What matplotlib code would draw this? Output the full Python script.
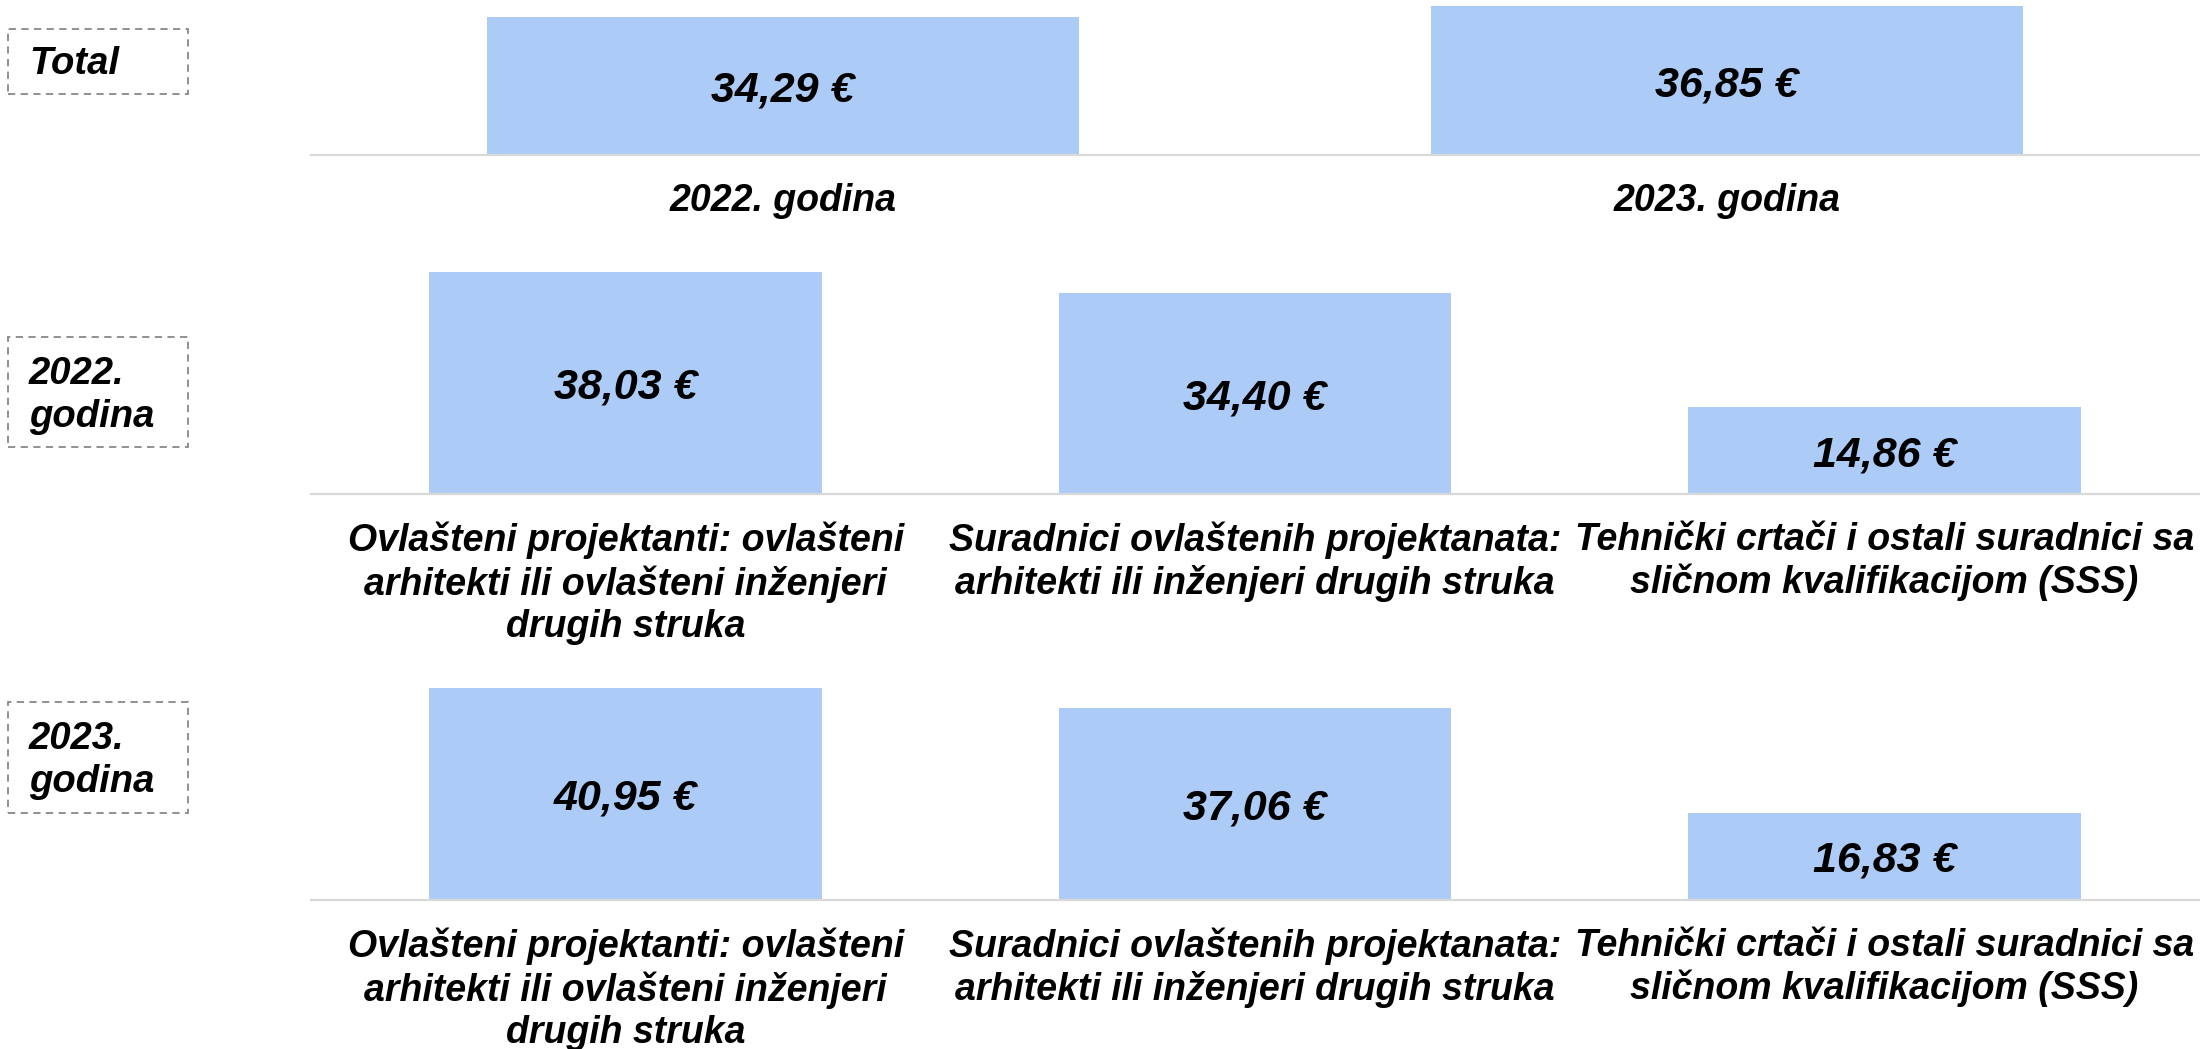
import matplotlib
matplotlib.use("Agg")
import matplotlib.pyplot as plt
from matplotlib.patches import Rectangle

# ---- data ----
total_categories = ["2022. godina", "2023. godina"]
total_values = [34.29, 36.85]

role_categories = [
    "Ovlašteni projektanti: ovlašteni\narhitekti ili ovlašteni inženjeri\ndrugih struka",
    "Suradnici ovlaštenih projektanata:\narhitekti ili inženjeri drugih struka",
    "Tehnički crtači i ostali suradnici sa\nsličnom kvalifikacijom (SSS)",
]
values_2022 = [38.03, 34.40, 14.86]
values_2023 = [40.95, 37.06, 16.83]

row_labels = ["Total", "2022.\ngodina", "2023.\ngodina"]

# ---- style ----
plt.rcParams['font.family'] = ['Liberation Sans', 'DejaVu Sans']
BAR = "#adcbf7"
W, H = 2200, 1049
fig = plt.figure(figsize=(22, 10.49), dpi=100)

def fx(px):
    return px / W

def fy(py):
    return 1 - py / H

def make_ax(bottom_px, top_px, ymax):
    ax = fig.add_axes([fx(311), fy(bottom_px), fx(2199) - fx(311), (bottom_px - top_px) / H])
    ax.set_ylim(0, ymax)
    for s in ["top", "left", "right"]:
        ax.spines[s].set_visible(False)
    ax.spines["bottom"].set_color("#d9d9d9")
    ax.spines["bottom"].set_linewidth(1.6)
    ax.set_yticks([])
    ax.tick_params(axis="x", length=0, pad=20)
    ax.patch.set_alpha(0)
    return ax

def fmt(v):
    return f"{v:.2f}".replace(".", ",") + " €"

def draw(ax, cats, vals, width):
    x = list(range(len(cats)))
    ax.bar(x, vals, width=width, color=BAR, zorder=2)
    ax.set_xlim(-0.5, len(cats) - 0.5)
    ax.set_xticks(x)
    ax.set_xticklabels(cats, fontsize=27, fontweight="bold", fontstyle="italic",
                       linespacing=1.21)
    for xi, v in zip(x, vals):
        ax.text(xi, v / 2, fmt(v), ha="center", va="center_baseline", fontsize=31,
                fontweight="bold", fontstyle="italic", zorder=3)

ax1 = make_ax(155, 0, 155 / 4.03)
draw(ax1, total_categories, total_values, 0.627)
ax2 = make_ax(494, 260, 234 / 5.837)
draw(ax2, role_categories, values_2022, 0.624)
ax3 = make_ax(900, 683, 217 / 5.17)
draw(ax3, role_categories, values_2023, 0.624)

# ---- left row boxes ----
boxes = [(29, 94, 47), (337, 447, 357), (702, 813, 722)]
for (t, b, ct), lab in zip(boxes, row_labels):
    r = Rectangle((fx(8), fy(b)), fx(188) - fx(8), (b - t) / H, transform=fig.transFigure,
                  fill=False, edgecolor="#888888", linewidth=1.3, linestyle=(0, (4, 3)))
    fig.add_artist(r)
    fig.text(fx(29), fy(ct - 1), lab, ha="left", va="top", fontsize=27.5, fontweight="bold",
             fontstyle="italic", linespacing=1.25)

fig.savefig("out.png", dpi=100, facecolor="white")
